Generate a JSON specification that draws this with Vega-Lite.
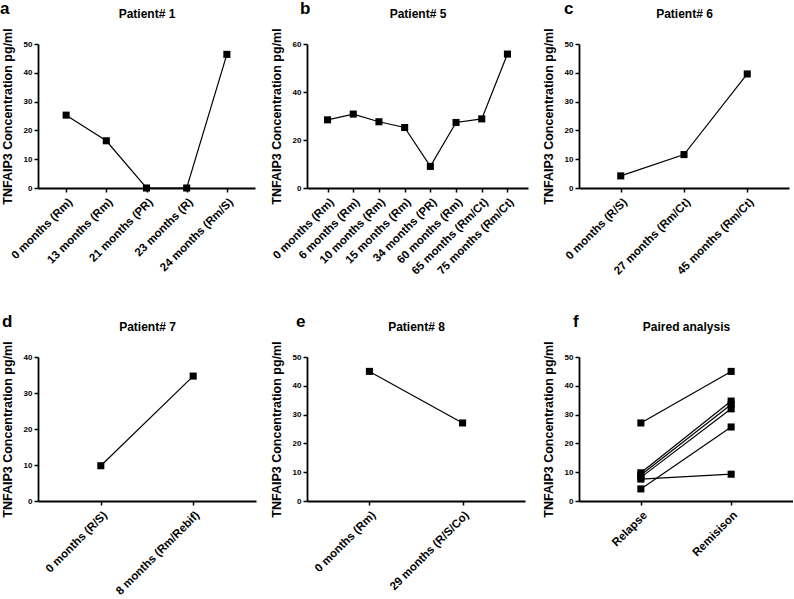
{
  "$schema": "https://vega.github.io/schema/vega-lite/v6.json",
  "background": "white",
  "padding": {"left": 0, "top": 0, "right": 0, "bottom": 0},
  "columns": 3,
  "align": "none",
  "bounds": "flush",
  "spacing": {"row": 169, "column": 51},
  "config": {
    "view": {"stroke": null},
    "font": "Liberation Sans",
    "axis": {
      "grid": false,
      "domainColor": "black",
      "domainWidth": 1.8,
      "tickColor": "black",
      "tickWidth": 1.5,
      "tickSize": 4,
      "labelFont": "Liberation Sans",
      "labelFontWeight": "bold",
      "labelColor": "black",
      "titleFont": "Liberation Sans",
      "titleFontWeight": "bold",
      "titleColor": "black"
    },
    "axisX": {"labelAngle": -45, "labelFontSize": 11.5, "labelPadding": 4, "titleFontSize": 12, "titleBaseline": "alphabetic", "titleY": -171},
    "axisY": {"labelFontSize": 8, "titleFontSize": 12.5, "labelPadding": 2, "titlePadding": 9},
    "title": {"font": "Liberation Sans", "fontWeight": "bold", "color": "black", "fontSize": 17, "anchor": "start", "frame": "group", "offset": -11},
    "line": {"color": "black", "strokeWidth": 1.2},
    "square": {"color": "black", "size": 50, "opacity": 1}
  },
  "concat": [
    {
      "width": 217, "height": 144,
      "title": {"text": "a", "dx": -38},
      "data": {"values": [
        {"label": "0 months (Rm)", "value": 25.3},
        {"label": "13 months (Rm)", "value": 16.4},
        {"label": "21 months (PR)", "value": 0},
        {"label": "23 months (R)", "value": 0},
        {"label": "24 months (Rm/S)", "value": 46.4}
      ]},
      "encoding": {
        "x": {"field": "label", "type": "ordinal", "sort": null, "scale": {"type": "point", "padding": 0.7}, "axis": {"title": "Patient# 1"}},
        "y": {"field": "value", "type": "quantitative", "scale": {"domain": [0, 50], "nice": false}, "axis": {"values": [0, 10, 20, 30, 40, 50], "title": "TNFAIP3 Concentration pg/ml"}}
      },
      "layer": [{"mark": "line"}, {"mark": "square"}]
    },
    {
      "width": 221, "height": 144,
      "title": {"text": "b", "dx": -7},
      "data": {"values": [
        {"label": "0 months (Rm)", "value": 28.4},
        {"label": "6 months (Rm)", "value": 30.8},
        {"label": "10 months (Rm)", "value": 27.6},
        {"label": "15 months (Rm)", "value": 25.2},
        {"label": "34 months (PR)", "value": 9.0},
        {"label": "60 months (Rm)", "value": 27.3},
        {"label": "65 months (Rm/Ct)", "value": 28.8},
        {"label": "75 months (Rm/Ct)", "value": 55.8}
      ]},
      "encoding": {
        "x": {"field": "label", "type": "ordinal", "sort": null, "scale": {"type": "point", "padding": 0.8}, "axis": {"title": "Patient# 5"}},
        "y": {"field": "value", "type": "quantitative", "scale": {"domain": [0, 60], "nice": false}, "axis": {"values": [0, 20, 40, 60], "title": "TNFAIP3 Concentration pg/ml"}}
      },
      "layer": [{"mark": "line"}, {"mark": "square"}]
    },
    {
      "width": 210, "height": 144,
      "title": {"text": "c", "dx": -15},
      "data": {"values": [
        {"label": "0 months (R/S)", "value": 4.2},
        {"label": "27 months (Rm/Ct)", "value": 11.6},
        {"label": "45 months (Rm/Ct)", "value": 39.6}
      ]},
      "encoding": {
        "x": {"field": "label", "type": "ordinal", "sort": null, "scale": {"type": "point", "padding": 0.66}, "axis": {"title": "Patient# 6"}},
        "y": {"field": "value", "type": "quantitative", "scale": {"domain": [0, 50], "nice": false}, "axis": {"values": [0, 10, 20, 30, 40, 50], "title": "TNFAIP3 Concentration pg/ml"}}
      },
      "layer": [{"mark": "line"}, {"mark": "square"}]
    },
    {
      "width": 218, "height": 144,
      "title": {"text": "d", "dx": -36},
      "data": {"values": [
        {"label": "0 months (R/S)", "value": 9.8},
        {"label": "8 months (Rm/Rebif)", "value": 34.7}
      ]},
      "encoding": {
        "x": {"field": "label", "type": "ordinal", "sort": null, "scale": {"type": "point", "padding": 0.68}, "axis": {"title": "Patient# 7"}},
        "y": {"field": "value", "type": "quantitative", "scale": {"domain": [0, 40], "nice": false}, "axis": {"values": [0, 10, 20, 30, 40], "title": "TNFAIP3 Concentration pg/ml"}}
      },
      "layer": [{"mark": "line"}, {"mark": "square"}]
    },
    {
      "width": 218, "height": 144,
      "title": {"text": "e", "dx": -11},
      "data": {"values": [
        {"label": "0 months (Rm)", "value": 45.0},
        {"label": "29 months (R/S/Co)", "value": 27.1}
      ]},
      "encoding": {
        "x": {"field": "label", "type": "ordinal", "sort": null, "scale": {"type": "point", "padding": 0.67}, "axis": {"title": "Patient# 8"}},
        "y": {"field": "value", "type": "quantitative", "scale": {"domain": [0, 50], "nice": false}, "axis": {"values": [0, 10, 20, 30, 40, 50], "title": "TNFAIP3 Concentration pg/ml"}}
      },
      "layer": [{"mark": "line"}, {"mark": "square"}]
    },
    {
      "width": 214, "height": 144,
      "title": {"text": "f", "dx": -6},
      "data": {"values": [
        {"pair": 1, "label": "Relapse", "value": 27.1},
        {"pair": 1, "label": "Remisison", "value": 45.0},
        {"pair": 2, "label": "Relapse", "value": 9.8},
        {"pair": 2, "label": "Remisison", "value": 34.7},
        {"pair": 3, "label": "Relapse", "value": 9.0},
        {"pair": 3, "label": "Remisison", "value": 33.5},
        {"pair": 4, "label": "Relapse", "value": 8.2},
        {"pair": 4, "label": "Remisison", "value": 32.0},
        {"pair": 5, "label": "Relapse", "value": 4.2},
        {"pair": 5, "label": "Remisison", "value": 25.7},
        {"pair": 6, "label": "Relapse", "value": 7.6},
        {"pair": 6, "label": "Remisison", "value": 9.3}
      ]},
      "encoding": {
        "x": {"field": "label", "type": "ordinal", "sort": null, "scale": {"type": "point", "padding": 0.685}, "axis": {"title": "Paired analysis"}},
        "y": {"field": "value", "type": "quantitative", "scale": {"domain": [0, 50], "nice": false}, "axis": {"values": [0, 10, 20, 30, 40, 50], "title": "TNFAIP3 Concentration pg/ml"}},
        "detail": {"field": "pair", "type": "nominal"}
      },
      "layer": [{"mark": "line"}, {"mark": "square"}]
    }
  ]
}
